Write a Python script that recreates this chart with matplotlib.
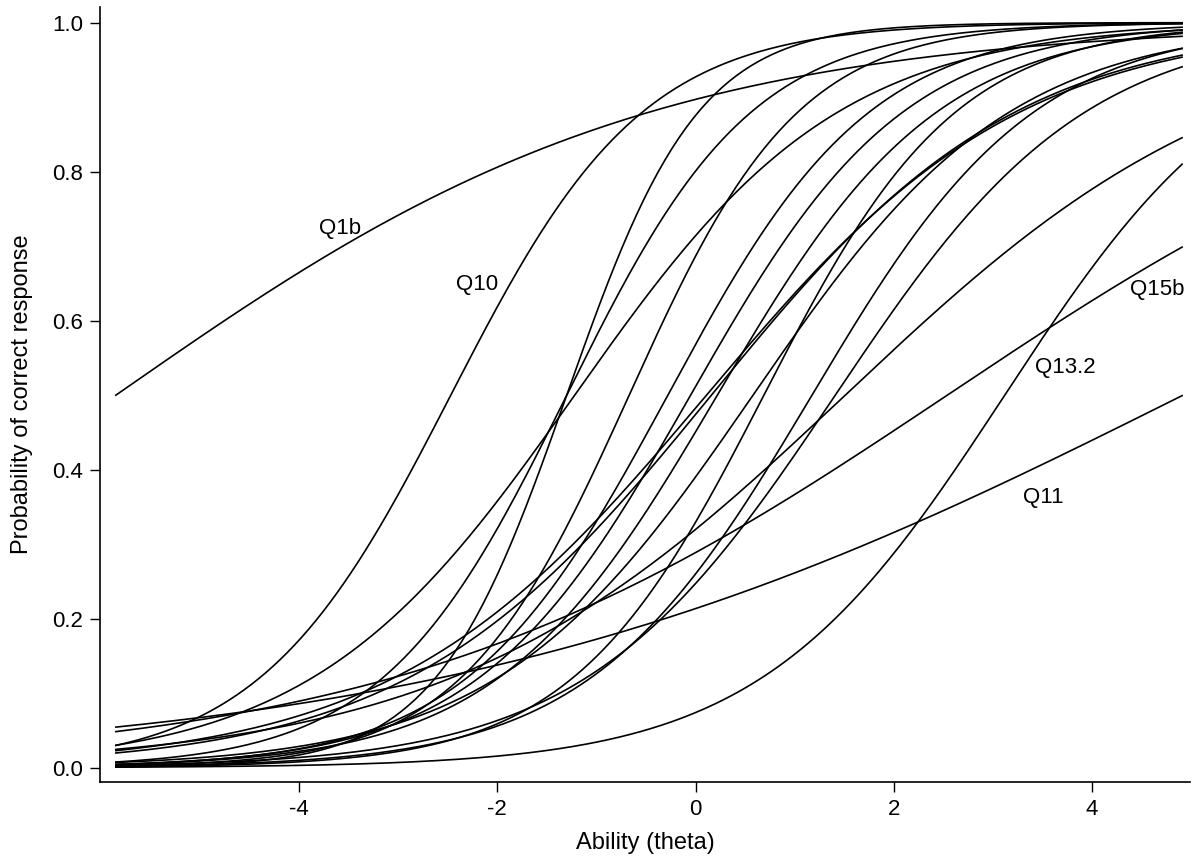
import numpy as np
import matplotlib
matplotlib.use("Agg")
import matplotlib.pyplot as plt

plt.rcParams['font.family'] = ['Liberation Sans', 'DejaVu Sans']
plt.rcParams['axes.unicode_minus'] = False

# item parameters (2PL: discrimination a, difficulty b)
items = ["Q1b", "Q10", "Q11", "Q13.2", "Q15b",
         "A", "B", "C", "D", "E", "F", "G", "H", "I", "J", "K", "L", "M", "N"]
disc = [0.37, 1.03, 0.265, 0.81, 0.355,
        0.75, 1.07, 1.50, 1.17, 0.98, 0.93, 0.63, 0.65, 0.90, 0.77, 1.03, 0.89, 0.79, 0.50]
diff = [-5.85, -2.47, 4.92, 3.12, 2.54,
        -1.22, -1.30, -1.30, -0.67, -0.28, -0.05, 0.11, 0.16, 0.22, 0.58, 0.69, 1.175, 1.41, 1.51]

# labels shown on the chart
label_items = ["Q1b", "Q10", "Q15b", "Q13.2", "Q11"]
label_theta = [-3.59, -2.20, 4.66, 3.73, 3.51]
label_prob = [0.724, 0.649, 0.642, 0.537, 0.363]

theta_min, theta_max = -5.85, 4.91
theta = np.linspace(theta_min, theta_max, 300)

fig = plt.figure(figsize=(11.93, 8.56), dpi=100)
ax = fig.add_axes([100 / 1193, 74 / 856, 1090 / 1193, 775 / 856])

for a, b in zip(disc, diff):
    p = 1 / (1 + np.exp(-a * (theta - b)))
    ax.plot(theta, p, color="black", linewidth=1.2)

for name, tx, ty in zip(label_items, label_theta, label_prob):
    ax.text(tx, ty, name, fontsize=16, ha="center", va="center")

ax.set_xlim(-6.01, 4.99)
ax.set_ylim(-0.0192, 1.021)
ax.set_xticks([-4, -2, 0, 2, 4])
ax.set_yticks([0.0, 0.2, 0.4, 0.6, 0.8, 1.0])
ax.set_yticklabels(["0.0", "0.2", "0.4", "0.6", "0.8", "1.0"])
ax.spines["top"].set_visible(False)
ax.spines["right"].set_visible(False)
ax.spines["left"].set_linewidth(1.2)
ax.spines["bottom"].set_linewidth(1.2)
ax.tick_params(direction="out", length=7, width=1.0, labelsize=16, pad=5)
ax.set_xlabel("Ability (theta)", fontsize=17, labelpad=9)
ax.set_ylabel("Probability of correct response", fontsize=17, labelpad=14)

fig.savefig("out.png", dpi=100)
